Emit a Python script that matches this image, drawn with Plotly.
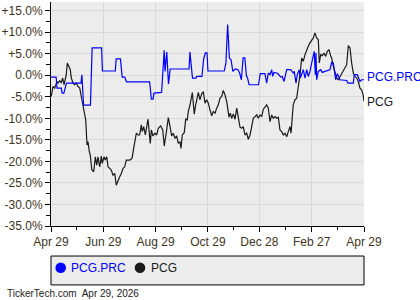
import pandas as pd
import plotly.graph_objects as go

START = "2025-04-29"
END = "2026-04-29"

# PCG.PRC (blue): days since start, % change
prc_days = [0, 6, 7, 12, 13, 15, 18, 35, 36, 38, 46, 48, 59, 60, 75, 76, 81, 83, 86, 88,
            115, 117, 119, 120, 129, 132, 133, 135, 137, 139, 161, 162, 165, 169, 170, 176,
            178, 180, 182, 183, 202, 204, 206, 208, 210, 212, 215, 218, 220, 222, 224, 226,
            228, 229, 231, 242, 244, 249.5, 251.5, 253.4, 255.4, 257.4, 258.5, 260.0, 263.2,
            265.0, 267.8, 269.7, 271.7, 274.9, 279.5, 282.5, 283.7, 285.7, 287.2, 289.5,
            290.7, 292.3, 294.2, 296.2, 298.2, 300.0, 302.0, 304.0, 307.0, 308.2, 309.0,
            309.8, 311.7, 314.5, 316.4, 319.5, 325.3, 327.3, 329.2, 332.0, 333.9, 337.0,
            344.8, 346.3, 352.5, 353.7, 357.2, 360.3, 362.3, 365]
prc_values = [-0.42, -0.42, -2.98, -2.98, -4.15, -4.15, -1.82, -1.82, 0.12, -6.95, -6.95,
              6.34, 6.34, 0.98, 0.98, 3.78, 3.78, -0.42, -0.42, -1.52, -1.52, -5.55, -5.55,
              -4.15, -4.0, 5.78, 0.89, 5.41, -2.05, 1.45, 1.45, 5.41, -0.65, -0.65, -0.28,
              -0.28, 3.78, 5.17, 5.17, 0.98, 0.98, 2.84, 11.77, 4.01, 3.61, 0.89, 1.45, 1.28,
              0.51, -1.05, 4.01, 4.01, -0.28, -0.42, -2.21, -2.21, 0.35, 0.35, -1.82, 0.51,
              0.12, 1.28, -0.28, 0.65, 0.51, 0.28, -0.42, -0.28, -1.45, 1.28, 1.28, 0.51,
              0.89, -1.82, 0.12, 1.28, -0.65, 0.51, 1.28, -0.65, 1.28, -0.28, 0.89, 2.84,
              5.55, 0.12, 5.17, -1.05, 0.89, 1.28, 0.65, 0.89, 1.28, 2.98, 2.84, -1.05, 0.35,
              -1.05, -1.21, -1.82, -1.82, 0.12, 0.12, -1.45, -1.05, -1.05]

# PCG (black): days since start, % change
pcg_days = [0.3, 2.3, 4.3, 7.0, 8.2, 10.1, 12.0, 13.6, 15.2, 16.7, 17.8, 19.0, 21.0, 22.5,
            23.7, 25.7, 27.6, 29.5, 31.5, 33.5, 35.3, 37.3, 39.3, 40.5, 42.0, 43.1, 44.7,
            45.8, 47.5, 49.8, 51.7, 53.3, 54.8, 56.8, 58.7, 59.8, 61.8, 63.3, 65.0, 66.5,
            68.4, 70.3, 72.3, 74.3, 76.1, 78.1, 80.1, 82.0, 84.0, 85.9, 87.8, 91.8, 94.5,
            96.4, 98.3, 99.5, 101.5, 103.4, 105.3, 106.5, 108.1, 110.0, 113.1, 114.6, 115.8,
            117.0, 118.9, 121.3, 123.3, 125.1, 127.9, 130.3, 132.1, 134.9, 136.8, 138.8,
            140.7, 142.6, 144.6, 146.6, 148.4, 150.4, 151.6, 153.1, 155.4, 157.1, 158.9,
            160.1, 162.1, 164.8, 167.1, 168.7, 170.6, 171.8, 173.7, 175.7, 177.6, 179.6,
            181.6, 183.4, 185.4, 187.4, 189.3, 191.3, 193.2, 195.1, 197.1, 199.1, 200.9,
            202.9, 204.9, 206.0, 207.6, 209.1, 210.7, 212.6, 214.6, 216.6, 218.4, 220.4,
            222.4, 224.2, 226.2, 228.2, 230.1, 232.1, 234.0, 235.9, 237.9, 239.9, 241.7,
            243.7, 245.7, 247.6, 249.5, 251.5, 253.4, 255.4, 257.4, 259.2, 261.2, 263.2,
            265.1, 267.0, 269.0, 270.9, 272.9, 274.9, 276.7, 278.7, 279.9, 281.4, 282.5,
            284.5, 286.5, 288.4, 290.4, 292.3, 294.2, 296.2, 298.2, 300.0, 302.0, 304.0,
            305.9, 307.8, 309.8, 311.7, 312.9, 314.5, 316.4, 318.3, 320.3, 322.2, 324.2,
            326.2, 327.3, 329.2, 331.2, 333.2, 335.0, 337.0, 339.0, 340.9, 342.8, 344.8,
            346.7, 348.7, 350.6, 352.5, 354.5, 356.5, 358.3, 360.3, 362.3, 364.2, 365.0]
pcg_values = [-4.94, -2.61, -2.98, -1.45, -1.82, -1.28, -1.68, -0.65, -2.21, -1.05, 0.12,
              2.84, 2.05, 1.28, -0.65, -1.82, -2.21, -1.82, -2.61, -2.98, -4.94, -6.88,
              -9.21, -10.37, -16.20, -15.43, -17.76, -18.53, -21.87, -22.42, -18.93, -20.86,
              -18.93, -21.26, -18.77, -20.47, -18.93, -19.70, -18.93, -21.26, -21.63, -22.03,
              -23.19, -22.80, -25.53, -24.36, -23.59, -22.80, -21.63, -21.26, -19.70, -19.70,
              -19.30, -16.97, -14.27, -13.47, -13.87, -13.87, -11.54, -13.10, -11.94, -13.87,
              -10.21, -12.70, -15.81, -12.70, -14.10, -13.47, -13.87, -12.31, -11.77, -12.70,
              -16.43, -12.70, -9.84, -11.93, -14.10, -13.47, -14.64, -14.10, -15.80, -15.43,
              -16.97, -13.87, -13.33, -10.21, -10.37, -8.44, -6.88, -4.01, -9.04, -6.88,
              -5.08, -4.01, -5.71, -4.31, -3.78, -6.48, -5.71, -6.48, -8.04, -9.44, -8.44,
              -8.81, -7.65, -6.88, -5.31, -4.94, -3.54, -4.55, -6.11, -7.65, -9.74, -8.81,
              -9.98, -8.97, -10.21, -7.65, -9.98, -12.07, -12.31, -11.94, -13.87, -13.47,
              -14.87, -13.87, -11.94, -9.98, -9.61, -9.21, -9.98, -9.21, -9.61, -7.88, -7.41,
              -6.88, -7.65, -10.77, -9.21, -9.98, -9.61, -9.98, -9.74, -12.70, -13.10, -13.87,
              -13.47, -14.27, -13.10, -11.94, -13.47, -10.37, -6.88, -5.71, -5.31, -2.61,
              0.12, 4.01, 3.22, 4.78, 5.94, 6.71, 7.51, 8.28, 8.67, 9.84, 8.67, 8.28, 2.84,
              4.78, 4.55, 5.17, 4.38, 5.55, 5.94, 4.38, 4.01, 2.05, 0.89, -0.65, -1.05, -0.28,
              0.51, 1.28, 1.68, 2.45, 6.88, 6.34, 2.84, 0.51, -0.28, -0.65, -1.45, -2.98,
              -3.38, -4.78, -6.11]

x_tick_dates = ["2025-04-29", "2025-06-29", "2025-08-29", "2025-10-29", "2025-12-28",
                "2026-02-27", "2026-04-29"]
x_tick_labels = ["Apr 29", "Jun 29", "Aug 29", "Oct 29", "Dec 28", "Feb 27", "Apr 29"]
x_minor_dates = ["2025-05-29", "2025-07-29", "2025-09-28", "2025-11-28", "2026-01-27",
                 "2026-03-29"]
y_tick_vals = [15, 10, 5, 0, -5, -10, -15, -20, -25, -30, -35]
y_tick_labels = ["+15.0%", "+10.0%", "+5.0%", "0.0%", "-5.0%", "-10.0%", "-15.0%",
                 "-20.0%", "-25.0%", "-30.0%", "-35.0%"]
y_minor_vals = [12.5, 7.5, 2.5, -2.5, -7.5, -12.5, -17.5, -22.5, -27.5, -32.5]

series_names = ["PCG.PRC", "PCG"]
series_colors = ["#0000ff", "#1a1a1a"]

start = pd.Timestamp(START)
prc_dates = start + pd.to_timedelta(prc_days, unit="D")
pcg_dates = start + pd.to_timedelta(pcg_days, unit="D")

TICK_COLOR = "#40341a"
FONT = "Liberation Sans, Arial, sans-serif"

fig = go.Figure()
fig.add_trace(go.Scatter(x=pcg_dates, y=pcg_values, mode="lines", name="PCG",
                         line=dict(color=series_colors[1], width=1.2), showlegend=False))
fig.add_trace(go.Scatter(x=prc_dates, y=prc_values, mode="lines", name="PCG.PRC",
                         line=dict(color=series_colors[0], width=1.2), showlegend=False))

fig.update_layout(
    width=420, height=300,
    margin=dict(l=51, r=56, t=2, b=74),
    paper_bgcolor="white",
    plot_bgcolor="#ececec",
    font=dict(family=FONT, size=12, color=TICK_COLOR),
    showlegend=False,
    xaxis=dict(
        type="date", range=[START, END],
        tickmode="array", tickvals=x_tick_dates, ticktext=x_tick_labels,
        ticks="outside", ticklen=5, tickcolor="black", tickwidth=1,
        showline=True, linecolor="black", linewidth=1,
        showgrid=True, gridcolor="#d9d9d9", gridwidth=1,
        zeroline=False,
        tickfont=dict(size=12, color=TICK_COLOR),
        minor=dict(tickmode="array", tickvals=x_minor_dates, ticks="outside",
                   ticklen=3, tickcolor="black", showgrid=False),
    ),
    yaxis=dict(
        range=[-35, 17],
        tickmode="array", tickvals=y_tick_vals, ticktext=y_tick_labels,
        ticks="outside", ticklen=5, tickcolor="black", tickwidth=1,
        showline=True, linecolor="black", linewidth=1,
        showgrid=True, gridcolor="#d9d9d9", gridwidth=1,
        zeroline=False,
        tickfont=dict(size=12, color=TICK_COLOR),
        minor=dict(tickmode="array", tickvals=y_minor_vals, ticks="outside",
                   ticklen=4, tickcolor="black", showgrid=False),
    ),
)

# end-of-line labels
fig.add_annotation(xref="paper", x=1, xanchor="left", xshift=1, yref="y",
                   y=prc_values[-1] + 0.6, text=series_names[0], showarrow=False,
                   font=dict(family=FONT, size=12, color=series_colors[0]))
fig.add_annotation(xref="paper", x=1, xanchor="left", xshift=1, yref="y",
                   y=pcg_values[-1] - 0.1, text=series_names[1], showarrow=False,
                   font=dict(family=FONT, size=12, color=series_colors[1]))

# legend box (below plot)
fig.add_shape(type="rect", xref="paper", yref="paper", x0=0, x1=1, y0=-0.263, y1=-0.134,
              line=dict(color="black", width=1), fillcolor="#ececec", layer="below")
legend_x = [0.0141, 0.2674]
legend_text_x = [0.0585, 0.314]
for i in range(2):
    fig.add_shape(type="circle", xref="paper", yref="paper",
                  x0=legend_x[i], x1=legend_x[i] + 0.0339, y0=-0.2098, y1=-0.1625,
                  line=dict(color=series_colors[i], width=0), fillcolor=series_colors[i])
    fig.add_annotation(xref="paper", yref="paper", x=legend_text_x[i], y=-0.1862,
                       xanchor="left", yanchor="middle", text=series_names[i],
                       showarrow=False,
                       font=dict(family=FONT, size=12, color=series_colors[i]))

# footer
fig.add_annotation(xref="paper", yref="paper", x=-0.147, y=-0.303, xanchor="left",
                   yanchor="middle", text="TickerTech.com  Apr 29, 2026", showarrow=False,
                   font=dict(family=FONT, size=10, color="#222222"))

fig.write_html("out.html")
